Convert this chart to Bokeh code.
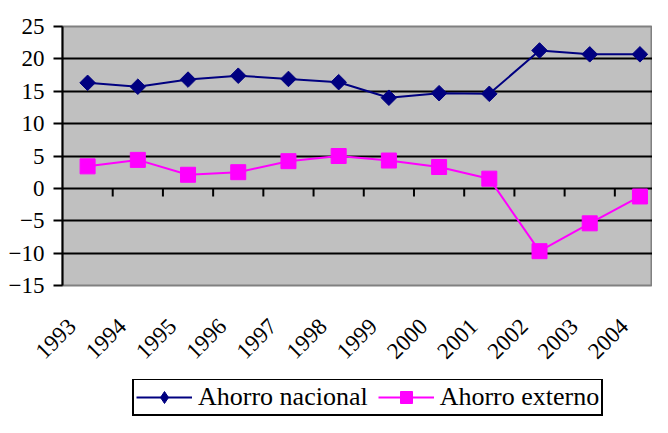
import math
from bokeh.plotting import figure
from bokeh.layouts import column
from bokeh.models import Range1d, LinearAxis, FixedTicker, Legend, LegendItem
from bokeh.embed import file_html
from bokeh.resources import INLINE

years = ["1993", "1994", "1995", "1996", "1997", "1998",
         "1999", "2000", "2001", "2002", "2003", "2004"]
ahorro_nacional = [16.3, 15.7, 16.8, 17.4, 16.9, 16.4, 14.0, 14.7, 14.6, 21.3, 20.7, 20.7]
ahorro_externo = [3.4, 4.4, 2.1, 2.5, 4.2, 5.0, 4.3, 3.3, 1.5, -9.7, -5.4, -1.25]
y_ticks = [-15, -10, -5, 0, 5, 10, 15, 20, 25]
series_names = ["Ahorro nacional", "Ahorro externo"]

FONT = "Liberation Serif"
NAVY, MAGENTA = "#000080", "#FF00FF"
idx = list(range(len(years)))
x_start, x_end = -0.5, 11.25
label_shift = 0.31

p = figure(width=652, height=379, output_backend="svg", toolbar_location=None,
           x_range=Range1d(x_start, x_end), y_range=Range1d(-15, 25),
           x_axis_location=None,
           min_border_left=62, min_border_right=0, min_border_top=26, min_border_bottom=94)

p.background_fill_color = "#C0C0C0"
p.border_fill_color = "white"
p.outline_line_color = "#808080"
p.outline_line_width = 2

p.xgrid.visible = False
p.ygrid.ticker = FixedTicker(ticks=y_ticks)
p.ygrid.grid_line_color = "black"
p.ygrid.grid_line_width = 2

ya = p.yaxis[0]
ya.ticker = FixedTicker(ticks=y_ticks)
ya.axis_line_color = "black"
ya.axis_line_width = 2
ya.major_tick_line_width = 2
ya.major_tick_out = 9
ya.major_tick_in = 0
ya.minor_tick_line_color = None
ya.major_label_standoff = 9
ya.major_label_text_font = FONT
ya.major_label_text_font_size = "23px"
ya.major_label_text_color = "black"

# category separator ticks on the zero line
p.ray(x=[i + 0.5 for i in idx], y=[0] * len(idx), length=8, length_units="screen",
      angle=-math.pi / 2, line_color="black", line_width=2)

p.line(idx, ahorro_nacional, line_color=NAVY, line_width=2)
p.scatter(idx, ahorro_nacional, marker="square", angle=math.pi / 4, size=11,
          fill_color=NAVY, line_color=NAVY)
p.line(idx, ahorro_externo, line_color=MAGENTA, line_width=2)
p.scatter(idx, ahorro_externo, marker="square", size=15,
          fill_color=MAGENTA, line_color=MAGENTA)

p.extra_x_ranges = {"lab": Range1d(x_start + label_shift, x_end + label_shift)}
xa = LinearAxis(x_range_name="lab", ticker=FixedTicker(ticks=idx),
                major_label_overrides={i: y for i, y in zip(idx, years)})
xa.major_label_orientation = math.pi / 4
xa.axis_line_color = None
xa.major_tick_line_color = None
xa.minor_tick_line_color = None
xa.major_label_standoff = 31
xa.major_label_text_font = FONT
xa.major_label_text_font_size = "23px"
xa.major_label_text_color = "black"
p.add_layout(xa, "below")

# legend strip (its glyphs sit outside the visible range; only the legend shows)
lf = figure(width=652, height=38, output_backend="svg", toolbar_location=None,
            x_range=Range1d(0, 1), y_range=Range1d(1000, 1001),
            x_axis_location=None, y_axis_location=None,
            min_border_left=0, min_border_right=0, min_border_top=0, min_border_bottom=0)
lf.outline_line_color = None
lf.grid.visible = False
lf.background_fill_color = "white"
gl1 = lf.line(idx, ahorro_nacional, line_color=NAVY, line_width=2)
gs1 = lf.scatter(idx, ahorro_nacional, marker="diamond",
                 fill_color=NAVY, line_color=NAVY)
gl2 = lf.line(idx, ahorro_externo, line_color=MAGENTA, line_width=2)
gs2 = lf.scatter(idx, ahorro_externo, marker="square",
                 fill_color=MAGENTA, line_color=MAGENTA)

legend = Legend(items=[LegendItem(label=series_names[0], renderers=[gl1, gs1]),
                       LegendItem(label=series_names[1], renderers=[gl2, gs2])],
                location=(70, 1), orientation="horizontal")
legend.border_line_color = "black"
legend.border_line_alpha = 1.0
legend.border_line_width = 2
legend.background_fill_color = "white"
legend.background_fill_alpha = 1
legend.label_text_font = FONT
legend.label_text_font_size = "26px"
legend.label_text_color = "black"
legend.glyph_width = 56
legend.glyph_height = 30
legend.label_standoff = 6
legend.spacing = 10
legend.padding = 2
legend.margin = 0
lf.add_layout(legend, "center")

layout = column(p, lf, spacing=0)
open("out.html", "w").write(file_html(layout, INLINE))
